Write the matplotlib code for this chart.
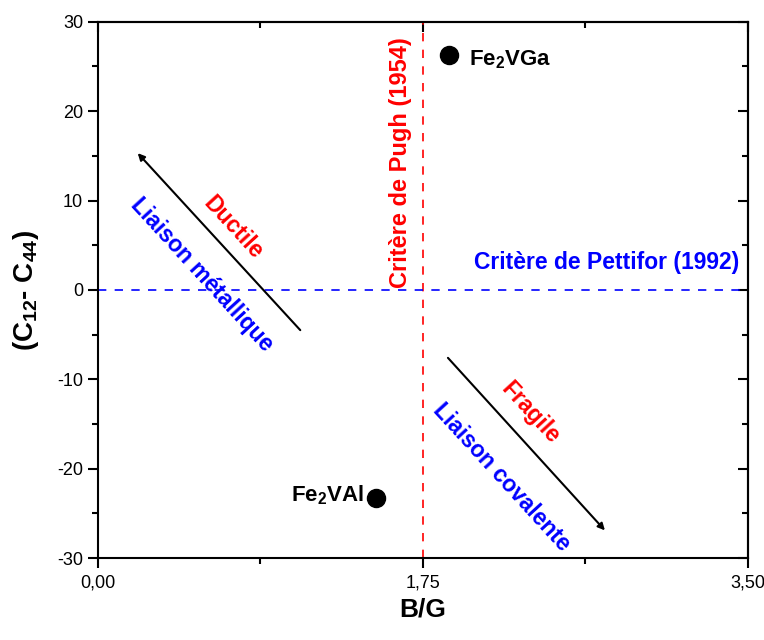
import matplotlib.pyplot as plt
from matplotlib.ticker import MultipleLocator, FuncFormatter

plt.rcParams['font.family'] = ['Liberation Sans', 'DejaVu Sans']
plt.rcParams['mathtext.default'] = 'bf'
plt.rcParams['mathtext.fontset'] = 'custom'
plt.rcParams['mathtext.bf'] = 'Liberation Sans:bold'
plt.rcParams['axes.unicode_minus'] = False

# compounds (B/G, C12 - C44)
names = ['Fe$_2$VGa', 'Fe$_2$VAl']
bg = [1.89, 1.50]
cp = [26.3, -23.3]

pugh_x = 1.75
pettifor_y = 0.0

# arrows: (start, end)
ductile_arrow = [(1.09, -4.5), (0.215, 15.3)]
fragile_arrow = [(1.885, -7.6), (2.73, -26.9)]

fig = plt.figure(figsize=(7.64, 6.4), dpi=100)
ax = fig.add_axes([0.128, 0.128, 0.851, 0.838])

ax.axvline(pugh_x, color='red', ls=(0, (5, 5)), lw=1.2)
ax.axhline(pettifor_y, color='blue', ls=(0, (5, 5)), lw=1.2)

ax.plot(bg, cp, 'o', color='black', ms=13)
ax.text(bg[0] + 0.11, cp[0] - 0.6, names[0], fontsize=16, fontweight='bold',
        ha='left', va='center')
ax.text(bg[1] - 0.07, cp[1] + 0.3, names[1], fontsize=16, fontweight='bold',
        ha='right', va='center')

for (x0, y0), (x1, y1) in [ductile_arrow, fragile_arrow]:
    ax.annotate('', xy=(x1, y1), xytext=(x0, y0),
                arrowprops=dict(arrowstyle='-|>', color='black', lw=1.5,
                                mutation_scale=10, shrinkA=0, shrinkB=0))

rot = -47.5
fs = 16.5
ax.text(0.73, 6.9, 'Ductile', color='red', fontsize=fs, fontweight='bold',
        rotation=rot, ha='center', va='center', rotation_mode='anchor')
ax.text(0.56, 1.7, 'Liaison métallique', color='blue', fontsize=fs,
        fontweight='bold', rotation=rot, ha='center', va='center',
        rotation_mode='anchor')
ax.text(2.33, -13.7, 'Fragile', color='red', fontsize=fs, fontweight='bold',
        rotation=rot, ha='center', va='center', rotation_mode='anchor')
ax.text(2.175, -21.0, 'Liaison covalente', color='blue', fontsize=fs,
        fontweight='bold', rotation=rot, ha='center', va='center',
        rotation_mode='anchor')
ax.text(1.63, 14.2, 'Critère de Pugh (1954)', color='red', fontsize=17,
        fontweight='bold', rotation=90, ha='center', va='center')
ax.text(2.74, 3.1, 'Critère de Pettifor (1992)', color='blue', fontsize=fs,
        fontweight='bold', ha='center', va='center')

ax.set_xlim(0, 3.5)
ax.set_ylim(-30, 30)
ax.xaxis.set_major_locator(MultipleLocator(1.75))
ax.xaxis.set_minor_locator(MultipleLocator(0.875))
ax.yaxis.set_major_locator(MultipleLocator(10))
ax.yaxis.set_minor_locator(MultipleLocator(5))
ax.xaxis.set_major_formatter(FuncFormatter(lambda v, p: f'{v:.2f}'.replace('.', ',')))

ax.tick_params(which='both', direction='out', top=False, right=False, width=1.5,
               labelsize=13)
ax.tick_params(which='major', length=7)
ax.tick_params(which='minor', length=4)
ax.tick_params(axis='x', pad=5)

# mirrored inward ticks on top/right
sec_x = ax.secondary_xaxis('top')
sec_x.xaxis.set_major_locator(MultipleLocator(1.75))
sec_x.xaxis.set_minor_locator(MultipleLocator(0.875))
sec_x.tick_params(which='both', direction='in', width=1.5, labeltop=False)
sec_x.tick_params(which='major', length=7)
sec_x.tick_params(which='minor', length=4)
sec_y = ax.secondary_yaxis('right')
sec_y.yaxis.set_major_locator(MultipleLocator(10))
sec_y.yaxis.set_minor_locator(MultipleLocator(5))
sec_y.tick_params(which='both', direction='in', width=1.5, labelright=False)
sec_y.tick_params(which='major', length=7)
sec_y.tick_params(which='minor', length=4)

for s in list(ax.spines.values()) + [sec_x.spines['top'], sec_y.spines['right']]:
    s.set_linewidth(1.5)

ax.set_xlabel('B/G', fontsize=19, fontweight='bold', labelpad=4)
ax.set_ylabel('(C$_{12}$- C$_{44}$)', fontsize=20, fontweight='bold', labelpad=12)

fig.savefig('out.png', dpi=100)
